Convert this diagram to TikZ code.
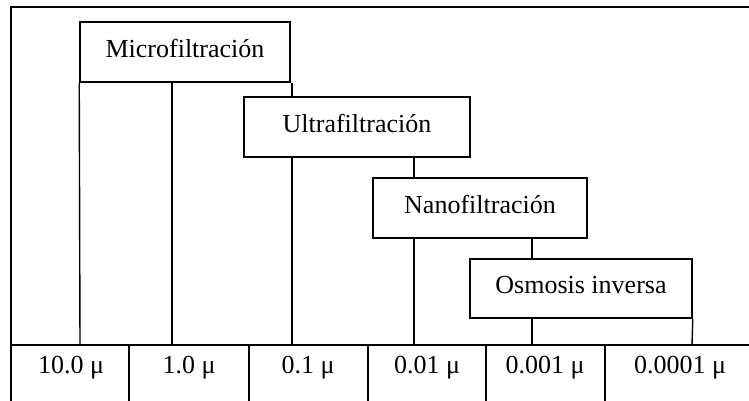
\documentclass[tikz,border=0pt]{standalone}
\usepackage{fontspec}
\setmainfont{Liberation Serif}
\usetikzlibrary{backgrounds}
\begin{document}
\begin{tikzpicture}[x=1pt,y=-1pt,
  box/.style={draw,line width=1.5pt,fill=white,inner sep=0pt,text height=18pt,text depth=8pt,font=\fontsize{26}{30}\selectfont},
  tickline/.style={line width=1.4pt},
  frameline/.style={line width=2pt},
  lab/.style={anchor=base,inner sep=0pt,font=\fontsize{26}{30}\selectfont}]
\useasboundingbox (0,0) rectangle (749,400);
\clip (0,0) rectangle (749,400);
% frame and table
\draw[frameline] (11,410) -- (11,7) -- (760,7);
\draw[frameline] (11,345) -- (760,345);
\foreach \x in {129,249,368,486,605}{
  \draw[frameline] (\x,345) -- (\x,410);
}
% tick coordinates
\coordinate (t1) at (80,345);
\coordinate (t2) at (172,345);
\coordinate (t3) at (292,345);
\coordinate (t4) at (414,345);
\coordinate (t5) at (532,345);
\coordinate (t6) at (692,345);
% boxes
\node[box,minimum width=210pt,minimum height=60pt] (micro) at (185,52) {Microfiltración};
\node[box,minimum width=226pt,minimum height=60pt] (ultra) at (357,127) {Ultrafiltración};
\node[box,minimum width=214pt,minimum height=60pt] (nano) at (480,208) {Nanofiltración};
\node[box,minimum width=222pt,minimum height=59pt] (osmo) at (581,288.5) {Osmosis inversa};
% connectors behind the boxes
\begin{scope}[on background layer]
\draw[tickline] (micro.south west) -- (t1);
\draw[tickline] (t2 |- micro.south) -- (t2);
\draw[tickline] (t3 |- micro.south) -- (t3);
\draw[tickline] (t4 |- ultra.south) -- (t4);
\draw[tickline] (t5 |- nano.south) -- (t5);
\draw[tickline] (osmo.south east) -- (t6);
\end{scope}
% labels
\node[lab] (l1) at (71,373) {10.0 μ};
\node[lab] (l2) at (189,373) {1.0 μ};
\node[lab] (l3) at (308,373) {0.1 μ};
\node[lab] (l4) at (427,373) {0.01 μ};
\node[lab] (l5) at (545,373) {0.001 μ};
\node[lab] (l6) at (680,373) {0.0001 μ};
\end{tikzpicture}
\end{document}
